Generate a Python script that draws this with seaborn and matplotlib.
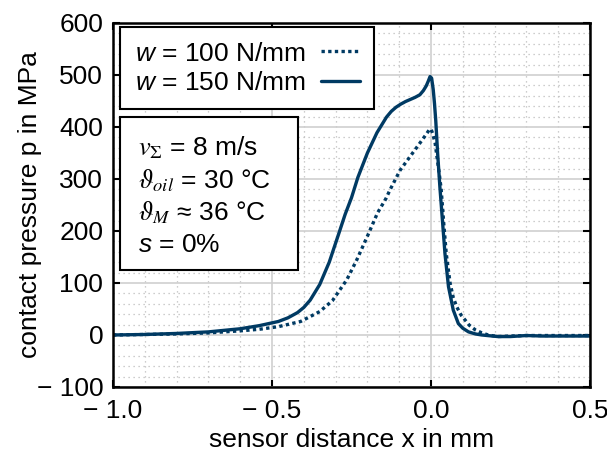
import matplotlib
matplotlib.use("Agg")
import matplotlib.pyplot as plt
import matplotlib.ticker as mticker
from matplotlib.patches import Rectangle
from matplotlib.lines import Line2D
import seaborn as sns
import pandas as pd

# ---- data ----
x_w150 = [-1.0, -0.9, -0.8, -0.7, -0.6, -0.54, -0.48, -0.45, -0.42, -0.4, -0.38, -0.35,
          -0.32, -0.29, -0.27, -0.25, -0.23, -0.2, -0.17, -0.14, -0.125, -0.11, -0.095,
          -0.08, -0.065, -0.05, -0.035, -0.024, -0.015, -0.008, -0.003, 0.002, 0.007,
          0.011, 0.015, 0.021, 0.028, 0.036, 0.044, 0.055, 0.07, 0.086, 0.1, 0.118, 0.14,
          0.16, 0.21, 0.25, 0.3, 0.35, 0.4, 0.5]
p_w150 = [0, 1, 3, 6, 12, 18, 26, 33, 43, 53, 67, 97,
          140, 195, 232, 264, 303, 350, 389, 419, 430, 438, 444,
          449, 453, 457, 462, 470, 479, 489, 497, 494, 472,
          445, 412, 348, 284, 220, 156, 93, 48, 22, 13, 6, 2,
          0, -3, -3, -1, -2, -2, -2]

x_w100 = [-1.0, -0.9, -0.8, -0.7, -0.6, -0.54, -0.48, -0.41, -0.35, -0.31, -0.265, -0.233,
          -0.2, -0.168, -0.142, -0.129, -0.097, -0.066, -0.035, -0.015, -0.005, 0.0, 0.005,
          0.013, 0.02, 0.026, 0.032, 0.04, 0.048, 0.06, 0.07, 0.081, 0.095, 0.107, 0.12,
          0.139, 0.16, 0.18, 0.21, 0.25, 0.3, 0.4, 0.5]
p_w100 = [0, 1, 2, 4, 8, 11, 16, 26, 45, 66, 106, 145,
          190, 235, 262, 279, 317, 343, 369, 386, 395, 396, 388,
          369, 337, 310, 280, 215, 156, 100, 72, 54, 38, 29, 19,
          10, 4, 0, -3, -2, -1, -1, -1]

labels = ["$\\mathit{w}$ = 100 N/mm", "$\\mathit{w}$ = 150 N/mm"]
xticks = [-1.0, -0.5, 0.0, 0.5]
yticks = [-100, 0, 100, 200, 300, 400, 500, 600]

df = pd.concat([
    pd.DataFrame({"x": x_w100, "p": p_w100, "series": labels[0]}),
    pd.DataFrame({"x": x_w150, "p": p_w150, "series": labels[1]}),
])

color = "#003a63"
FS = 19

sns.set_style("ticks")
plt.rcParams["font.family"] = ["Liberation Sans", "DejaVu Sans"]
plt.rcParams["mathtext.fontset"] = "custom"
plt.rcParams["mathtext.rm"] = "Liberation Sans"
plt.rcParams["mathtext.it"] = "Liberation Sans:italic"
plt.rcParams["mathtext.bf"] = "Liberation Sans:bold"
plt.rcParams["text.color"] = "black"
plt.rcParams["axes.labelcolor"] = "black"
plt.rcParams["xtick.color"] = "black"
plt.rcParams["ytick.color"] = "black"

fig = plt.figure(figsize=(6.07, 4.59), dpi=100)
ax = fig.add_axes([113/607, (459-387)/459, (590-113)/607, (387-23)/459])

sns.lineplot(data=df, x="x", y="p", hue="series", style="series",
             palette=[color, color], dashes=[(1, 1), ""], linewidth=2.4,
             sort=False, estimator=None, ax=ax, legend=False)
for ln in ax.lines:
    ln.set_dash_capstyle("butt")
    ln.set_solid_capstyle("round")
    ln.set_solid_joinstyle("round")

ax.set_xlim(-1.0, 0.5)
ax.set_ylim(-100, 600)
ax.set_xticks(xticks)
ax.set_yticks(yticks)
ax.set_xticklabels([("\u2212 %.1f" % abs(v)) if v < 0 else "%.1f" % v for v in xticks])
ax.set_yticklabels([("\u2212 %d" % abs(v)) if v < 0 else "%d" % v for v in yticks])
ax.xaxis.set_minor_locator(mticker.MultipleLocator(0.1))
ax.yaxis.set_minor_locator(mticker.MultipleLocator(20))

ax.grid(which="major", color="#cfcfcf", linewidth=1.2, linestyle="-")
ax.grid(which="minor", color="#bdbdbd", linewidth=0.9, linestyle=(0, (1, 3)))
ax.set_axisbelow(True)

ax.tick_params(which="major", direction="in", length=5, width=1.5,
               top=True, right=True, labelsize=FS, labelcolor="black", pad=9)
ax.tick_params(axis="y", which="major", pad=7)
ax.tick_params(which="minor", length=0)
for s in ax.spines.values():
    s.set_linewidth(1.8)
    s.set_color("black")

ax.set_xlabel("sensor distance x in mm", fontsize=FS)
ax.set_ylabel("contact pressure p in MPa", fontsize=FS)
ax.xaxis.set_label_coords(0.5, (387-440)/364)
ax.yaxis.set_label_coords((30-113)/477, 0.5)
ax.xaxis.label.set_va("center")
ax.yaxis.label.set_va("center")

# legend
handles = [Line2D([], [], color=color, lw=2.4, linestyle=(0, (1, 1)), dash_capstyle="butt"),
           Line2D([], [], color=color, lw=2.4)]
leg = ax.legend(handles, labels, loc="upper left", bbox_to_anchor=((120-113)/477, (387-27)/364),
                borderaxespad=0, markerfirst=False, fontsize=FS, frameon=True,
                fancybox=False, edgecolor="black", framealpha=1, handlelength=1.45,
                handletextpad=0.6, borderpad=0.55, labelspacing=0.2)
leg.get_frame().set_linewidth(1.5)

# info box
x0, x1 = (120-113)/477, (298-113)/477
y0, y1 = (387-270)/364, (387-117)/364
ax.add_patch(Rectangle((x0, y0), x1-x0, y1-y0, transform=ax.transAxes,
                       facecolor="white", edgecolor="black", linewidth=1.5, zorder=5))
info = [("$v_{\\Sigma}$ = 8 m/s", "stix", 148),
        ("$\\vartheta_{oil}$ = 30 \u00b0C", "stix", 181),
        ("$\\vartheta_{M}$ \u2248 36 \u00b0C", "stix", 213),
        ("$\\mathit{s}$ = 0%", "custom", 245)]
for txt, mf, ypx in info:
    ax.text((138-113)/477, (387-ypx)/364, txt, transform=ax.transAxes, fontsize=FS,
            va="center", ha="left", math_fontfamily=mf, zorder=6)

fig.savefig("out.png", dpi=100)
